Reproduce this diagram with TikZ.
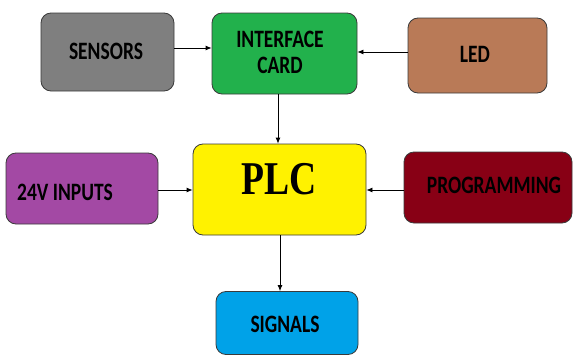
\documentclass[tikz,border=0pt]{standalone}
\usepackage{fontspec}
\setmainfont{Carlito}
\newfontfamily\plcfont{Liberation Serif}
\usetikzlibrary{arrows.meta}
\definecolor{cgray}{HTML}{7F7F7F}
\definecolor{cgreen}{HTML}{22B14C}
\definecolor{cbrown}{HTML}{B97A57}
\definecolor{cpurple}{HTML}{A349A4}
\definecolor{cyellow}{HTML}{FFF200}
\definecolor{cdred}{HTML}{880015}
\definecolor{ccyan}{HTML}{00A2E8}
\definecolor{cborder}{HTML}{3A3A3A}
\newcommand{\boxtxt}[1]{\scalebox{0.78}[1]{\fontsize{25}{26}\selectfont\bfseries #1}}
\tikzset{
  blockbox/.style={draw=cborder, line width=0.8pt, rounded corners=10pt, inner sep=0pt},
  lbl/.style={inner sep=0pt, text=black},
  arr/.style={-{Latex[length=6pt,width=5pt]}, line width=0.8pt, draw=black},
}
\begin{document}
\begin{tikzpicture}[x=1pt,y=-1pt]
\useasboundingbox (0,0) rectangle (574,356);
% boxes
\node[blockbox, fill=cgray, minimum width=133pt, minimum height=78pt] (sensors) at (107.5,52) {};
\node[blockbox, fill=cgreen, minimum width=145pt, minimum height=81pt] (iface) at (284.5,53.5) {};
\node[blockbox, fill=cbrown, minimum width=139pt, minimum height=75pt] (led) at (477.5,55.5) {};
\node[blockbox, fill=cpurple, minimum width=152pt, minimum height=71pt] (inputs) at (82,188.5) {};
\node[blockbox, fill=cyellow, minimum width=173pt, minimum height=91pt] (plc) at (279.5,189.5) {};
\node[blockbox, fill=cdred, minimum width=168pt, minimum height=71pt] (prog) at (488,187.5) {};
\node[blockbox, fill=ccyan, minimum width=142pt, minimum height=63pt] (signals) at (287,323) {};
% texts
\node[lbl] (sensorsT) at (106,51) {\boxtxt{SENSORS}};
\node[lbl] (ifaceT1) at (280,39.5) {\boxtxt{INTERFACE}};
\node[lbl] (ifaceT2) at (280,65.5) {\boxtxt{CARD}};
\node[lbl] (ledT) at (475,54.5) {\boxtxt{LED}};
\node[lbl] (inputsT) at (65,192) {\boxtxt{24V INPUTS}};
\node[lbl] (plcT) at (279.5,179.5) {\scalebox{0.8}[1]{\plcfont\fontsize{47}{48}\selectfont\bfseries PLC}};
\node[lbl] (progT) at (494,185) {\boxtxt{PROGRAMMING}};
\node[lbl] (signalsT) at (285,324.5) {\boxtxt{SIGNALS}};
% connectors
\draw[arr] (sensors.east |- 0,48) -- (iface.west |- 0,48);
\draw[arr] (led.west |- 0,52) -- (iface.east |- 0,52);
\draw[arr] (iface.south -| 278,0) -- (plc.north -| 278,0);
\draw[arr] (inputs.east |- 0,190) -- (plc.west |- 0,190);
\draw[arr] (prog.west |- 0,190) -- (plc.east |- 0,190);
\draw[arr] (plc.south -| 280,0) -- (signals.north -| 280,0);
\end{tikzpicture}
\end{document}
